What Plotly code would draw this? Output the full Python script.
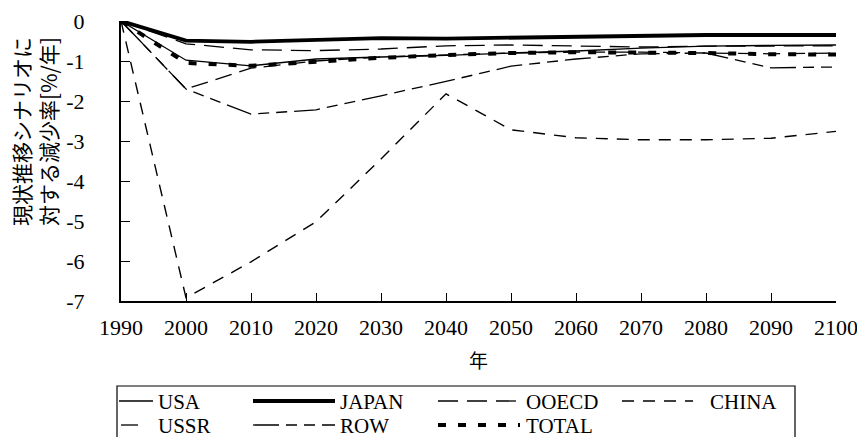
import plotly.graph_objects as go

# Reduction rate vs. business-as-usual scenario, by region [%/year]
years = [1990, 2000, 2010, 2020, 2030, 2040, 2050, 2060, 2070, 2080, 2090, 2100]
usa = [0, -0.98, -1.12, -0.95, -0.9, -0.86, -0.8, -0.75, -0.68, -0.63, -0.61, -0.6]
japan = [0, -0.49, -0.52, -0.48, -0.43, -0.44, -0.42, -0.39, -0.36, -0.35, -0.35, -0.35]
ooecd = [0, -0.57, -0.72, -0.74, -0.7, -0.62, -0.6, -0.63, -0.65, -0.63, -0.62, -0.62]
china = [0, -6.92, -6.02, -5.02, -3.45, -1.82, -2.72, -2.92, -2.97, -2.97, -2.93, -2.76]
ussr = [0, -1.7, -1.18, -1.0, -0.9, -0.85, -0.8, -0.78, -0.78, -0.8, -0.82, -0.8]
row = [0, -1.7, -2.33, -2.22, -1.87, -1.51, -1.13, -0.95, -0.82, -0.8, -1.17, -1.15]
total = [0, -1.05, -1.12, -1.02, -0.92, -0.85, -0.8, -0.78, -0.78, -0.8, -0.83, -0.84]

ytick_vals = [0, -1, -2, -3, -4, -5, -6, -7]
ytick_text = ["0", "-1", "-2", "-3", "-4", "-5", "-6", "-7"]
xtick_vals = years

# name, values, line width, dash pattern
series = [
    ("USA", usa, 1.3, "solid"),
    ("JAPAN", japan, 3.8, "solid"),
    ("OOECD", ooecd, 1.3, "20px,9px"),
    ("CHINA", china, 1.4, "12px,9px"),
    ("USSR", ussr, 1.3, "17px,8px"),
    ("ROW", row, 1.3, "26px,7px,11px,7px,11px,7px"),
    ("TOTAL", total, 4.0, "8px,12px"),
]

fig = go.Figure()
for name, vals, w, dash in series:
    fig.add_trace(go.Scatter(
        x=years, y=vals, name=name, mode="lines",
        line=dict(color="black", width=w, dash=dash),
        showlegend=False,
    ))

L, R, T, B = 121, 21, 21, 136
W, H = 857, 437
PW, PH = W - L - R, H - T - B


def px(x):
    return (x - L) / PW


def py(y):
    return (H - B - y) / PH


serif = "Liberation Serif, Times New Roman, serif"

fig.update_layout(
    width=W, height=H,
    margin=dict(l=L, r=R, t=T, b=B, pad=0, autoexpand=False),
    paper_bgcolor="white", plot_bgcolor="white",
    font=dict(family=serif, color="black"),
    xaxis=dict(
        range=[1990, 2100], tickvals=xtick_vals, automargin=False,
        ticks="inside", ticklen=8, tickwidth=1.3, tickcolor="black",
        showline=True, linecolor="black", linewidth=1.8,
        showgrid=False, zeroline=False,
        tickfont=dict(family=serif, size=22, color="black"),
        ticklabelstandoff=6, ticklabeloverflow="allow",
    ),
    yaxis=dict(
        range=[-7, 0], tickvals=ytick_vals, ticktext=ytick_text, automargin=False,
        ticks="inside", ticklen=9, tickwidth=1.3, tickcolor="black",
        showline=True, linecolor="black", linewidth=2,
        showgrid=False, zeroline=False,
        tickfont=dict(family=serif, size=22, color="black"),
        ticklabelstandoff=30, ticklabeloverflow="allow",
    ),
)

annotations = [
    dict(text="現状推移シナリオに<br>対する減少率[%/年]", textangle=-90,
         xref="paper", yref="paper", x=px(34), y=py(132),
         xanchor="center", yanchor="middle", showarrow=False,
         font=dict(family="Noto Sans CJK JP", size=21, color="black")),
    dict(text="年", xref="paper", yref="paper", x=px(478), y=py(359),
         xanchor="center", yanchor="middle", showarrow=False,
         font=dict(family="Noto Sans CJK JP", size=19, color="black")),
]

shapes = [
    dict(type="rect", xref="paper", yref="paper",
         x0=px(117), x1=px(795), y0=py(386), y1=py(450),
         line=dict(color="black", width=1.2), fillcolor="rgba(0,0,0,0)"),
]

# legend layout: (name, sample x0, sample x1, label x, row y)
legend_items = [
    ("USA", 119, 153, 156, 401),
    ("JAPAN", 253, 335, 338, 401),
    ("OOECD", 438, 520, 524, 401),
    ("CHINA", 622, 693, 708, 401),
    ("USSR", 121, 143, 156, 425),
    ("ROW", 253, 335, 338, 425),
    ("TOTAL", 438, 520, 524, 425),
]
style = {name: (w, dash) for name, _, w, dash in series}
for name, x0, x1, lx, ry in legend_items:
    w, dash = style[name]
    shapes.append(dict(type="line", xref="paper", yref="paper",
                       x0=px(x0), x1=px(x1), y0=py(ry), y1=py(ry),
                       line=dict(color="black", width=w, dash=dash)))
    annotations.append(dict(text=name, xref="paper", yref="paper",
                            x=px(lx), y=py(ry + 1), xanchor="left", yanchor="middle",
                            showarrow=False,
                            font=dict(family=serif, size=21, color="black")))

fig.update_layout(annotations=annotations, shapes=shapes)
fig.write_html("out.html")
